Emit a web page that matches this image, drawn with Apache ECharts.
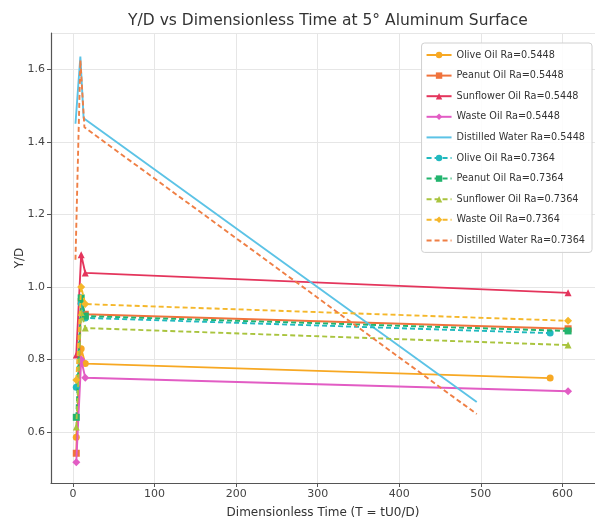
<!DOCTYPE html>
<html>
<head>
<meta charset="utf-8">
<script src="https://cdn.jsdelivr.net/npm/echarts@6/dist/echarts.min.js"></script>
<style>
html,body{margin:0;padding:0;background:#fff;}
#chart{width:595px;height:525px;}
</style>
</head>
<body>
<div id="chart"></div>
<script>
// ---- data (T, Y/D) ----
const olive5448     = [[4, 0.586], [10, 0.83], [15, 0.789], [585, 0.749]];
const peanut5448    = [[4, 0.542], [10, 0.96], [15, 0.925], [607, 0.885]];
const sunflower5448 = [[4, 0.813], [10, 1.089], [15, 1.039], [607, 0.984]];
const waste5448     = [[4, 0.517], [10, 0.80], [15, 0.750], [607, 0.713]];
const water5448     = [[3, 1.45], [9, 1.635], [13, 1.465], [495, 0.683]];
const olive7364     = [[4, 0.724], [10, 0.955], [15, 0.915], [585, 0.873]];
const peanut7364    = [[4, 0.641], [10, 0.97], [15, 0.920], [607, 0.879]];
const sunflower7364 = [[4, 0.614], [10, 0.93], [15, 0.887], [607, 0.840]];
const waste7364     = [[4, 0.744], [10, 1.00], [15, 0.953], [607, 0.907]];
const water7364     = [[3, 1.075], [9, 1.625], [14, 1.44], [495, 0.650]];

const seriesNames = [
  'Olive Oil Ra=0.5448', 'Peanut Oil Ra=0.5448', 'Sunflower Oil Ra=0.5448',
  'Waste Oil Ra=0.5448', 'Distilled Water Ra=0.5448',
  'Olive Oil Ra=0.7364', 'Peanut Oil Ra=0.7364', 'Sunflower Oil Ra=0.7364',
  'Waste Oil Ra=0.7364', 'Distilled Water Ra=0.7364'
];
const seriesData = [olive5448, peanut5448, sunflower5448, waste5448, water5448,
                    olive7364, peanut7364, sunflower7364, waste7364, water7364];
const titleText = 'Y/D vs Dimensionless Time at 5° Aluminum Surface';
const xLabel = 'Dimensionless Time (T = tU0/D)';
const yLabel = 'Y/D';

// ---- styles ----
const colors = ['#f7a823', '#f0733c', '#e4355c', '#e25cc4', '#5cc3e6',
                '#21b9bf', '#22b46e', '#a9c43e', '#f5b72a', '#ef7f45'];
const symbols = ['circle', 'rect', 'triangle', 'diamond', 'none',
                 'circle', 'rect', 'triangle', 'diamond', 'none'];
const dashed = [false, false, false, false, false, true, true, true, true, true];

const FONT = 'DejaVu Sans';
const series = seriesNames.map((name, i) => ({
  name: name,
  type: 'line',
  data: seriesData[i],
  symbol: symbols[i],
  symbolSize: symbols[i] === 'diamond' ? 8 : 7,
  showSymbol: symbols[i] !== 'none',
  color: colors[i],
  lineStyle: { width: 1.9, type: dashed[i] ? [5, 3] : 'solid', color: colors[i] },
  itemStyle: { color: colors[i] },
  animation: false,
  z: 2 + i
}));

const legendData = seriesNames.map((name, i) => (
  symbols[i] === 'none' ? { name: name, itemStyle: { opacity: 0 } } : { name: name }
));

const chart = echarts.init(document.getElementById('chart'), null, { renderer: 'canvas' });
chart.setOption({
  backgroundColor: '#ffffff',
  animation: false,
  title: {
    text: titleText,
    left: 323, top: 8, textAlign: 'center',
    textStyle: { fontFamily: FONT, fontSize: 15.5, fontWeight: 'normal', color: '#333' }
  },
  grid: { left: 51, right: 0, top: 33, bottom: 42 },
  xAxis: {
    type: 'value', min: -27, max: 640,
    name: xLabel, nameLocation: 'middle', nameGap: 24, nameMoveOverlap: false,
    nameTextStyle: { fontFamily: FONT, fontSize: 12, color: '#333' },
    axisLine: { show: true, onZero: false, lineStyle: { color: '#555', width: 1.2 } },
    axisTick: { show: true, length: 4, lineStyle: { color: '#555' } },
    axisLabel: {
      fontFamily: FONT, fontSize: 11, color: '#444', margin: 6,
      showMinLabel: false, showMaxLabel: false,
      formatter: v => (Math.abs(v % 100) < 1e-6 ? String(v) : '')
    },
    splitLine: { show: true, lineStyle: { color: '#e6e6e6', width: 1 } }
  },
  yAxis: {
    type: 'value', min: 0.46, max: 1.70,
    name: yLabel, nameLocation: 'middle', nameGap: 25, nameRotate: 90, nameMoveOverlap: false,
    nameTextStyle: { fontFamily: FONT, fontSize: 12, color: '#333' },
    axisLine: { show: true, onZero: false, lineStyle: { color: '#555', width: 1.2 } },
    axisTick: { show: true, length: 4, lineStyle: { color: '#555' } },
    axisLabel: {
      fontFamily: FONT, fontSize: 11, color: '#444', margin: 6,
      showMinLabel: false, showMaxLabel: false,
      formatter: v => (Math.abs(Math.round(v * 10) - v * 10) < 1e-6 && Math.round(v*10)%2===0 ? v.toFixed(1) : '')
    },
    splitLine: { show: true, lineStyle: { color: '#e6e6e6', width: 1 } }
  },
  legend: {
    orient: 'vertical',
    right: 3, top: 43,
    backgroundColor: 'rgba(255,255,255,0.85)',
    borderColor: '#d0d0d0', borderWidth: 1, borderRadius: 3,
    padding: [6, 7, 6, 4],
    itemWidth: 25, itemHeight: 8, itemGap: 8.6,
    textStyle: { fontFamily: FONT, fontSize: 9.7, color: '#333', lineHeight: 12 },
    data: legendData
  },
  series: series
});
</script>
</body>
</html>
